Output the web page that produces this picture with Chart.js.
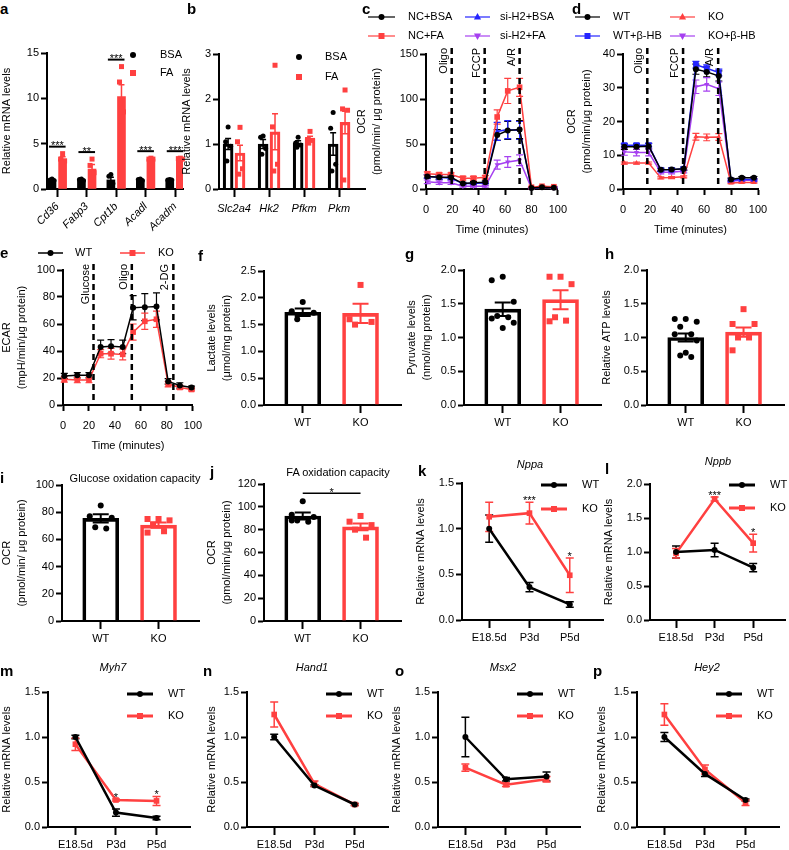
<!DOCTYPE html>
<html>
<head>
<meta charset="utf-8">
<title>Figure</title>
<script src="https://cdn.jsdelivr.net/npm/chart.js@4.4.1/dist/chart.umd.min.js"></script>
<style>
  html, body { margin: 0; padding: 0; background: #fff; }
  #fig { position: relative; width: 789px; height: 850px; overflow: hidden; font-family: 'Liberation Sans', Arial, sans-serif; color: #000; }
  #fig canvas { position: absolute; }
  .letter { position: absolute; font-weight: bold; font-size: 15px; line-height: 1; transform: translateY(-50%); }
  .title { position: absolute; font-size: 11px; line-height: 1; white-space: nowrap; transform: translate(-50%, -50%); }
</style>
</head>
<body>
<div id="fig"></div>
<script>
// ---------------- data ----------------
// a
const genesA = ['Cd36', 'Fabp3', 'Cpt1b', 'Acadl', 'Acadm'];
const bsaA = [1.0, 1.0, 1.0, 1.0, 1.0];
const bsaAErr = [0.05, 0.05, 0.3, 0.05, 0.05];
const bsaADots = [[1.1, 1.0, 0.95, 0.9], [1.1, 1.05, 0.95, 0.9], [1.6, 1.4, 0.6, 0.4], [1.1, 1.05, 0.95, 0.9], [1.05, 1.0, 1.0, 0.95]];
const faA = [3.3, 2.2, 10.2, 3.3, 3.3];
const faAErr = [0.25, 0.5, 1.3, 0.05, 0.07];
const faADots = [[3.9, 3.3, 3.1, 2.9], [3.3, 2.6, 1.8, 1.1], [13.5, 11.8, 8.5, 7.0], [3.4, 3.3, 3.3, 3.2], [3.4, 3.35, 3.3, 3.15]];
const sigA = ['***', '**', '***', '***', '***'];

// b
const genesB = ['Slc2a4', 'Hk2', 'Pfkm', 'Pkm'];
const bsaB = [1.0, 1.0, 1.02, 1.0];
const bsaBErr = [0.12, 0.1, 0.05, 0.25];
const bsaBDots = [[1.38, 1.05, 0.95, 0.62], [1.18, 1.15, 0.9, 0.77], [1.15, 1.02, 0.98, 0.93], [1.7, 1.35, 0.55, 0.4]];
const faB = [0.8, 1.27, 1.12, 1.48];
const faBErr = [0.17, 0.4, 0.05, 0.25];
const faBDots = [[1.37, 1.05, 0.45, 0.33], [2.75, 1.38, 0.55, 0.4], [1.28, 1.1, 1.08, 1.02], [2.2, 1.78, 1.75, 0.2]];

// c
const timeC = [1, 10, 19, 28, 36, 45, 54, 62, 71, 80, 88, 97];
const ncBsa = [14, 13, 13, 6, 7, 7.5, 60, 65, 66, 1, 2, 1.5];
const ncBsaErr = [2, 2, 2, 1.5, 1.5, 1.5, 6, 10, 10, 0.5, 0.5, 0.5];
const ncFa = [17, 16, 16, 12, 12, 13, 80, 109, 113, 2, 3, 2.5];
const ncFaErr = [2, 2, 2, 2, 2, 2, 8, 14, 10, 0.5, 0.5, 0.5];
const siBsa = [14, 13, 12, 6, 6, 7, 64, 66, 65, 1, 2, 2];
const siBsaErr = [2, 2, 2, 1, 1, 1, 10, 10, 10, 0.5, 0.5, 0.5];
const siFa = [8, 7, 7, 3, 3, 3, 27, 30, 32, 1, 2, 1];
const siFaErr = [2, 2, 2, 1, 1, 1, 5, 6, 6, 0.5, 0.5, 0.5];
const injectC = [19.5, 44.5, 71];
const injectLabelsC = ['Oligo', 'FCCP', 'A/R'];

// d
const timeD = [1, 10, 19, 28, 36, 45, 54, 62, 71, 80, 88, 97];
const wtD = [12.5, 12.5, 12.7, 5.7, 5.8, 6, 35.5, 34.7, 33.5, 2.8, 3.3, 3.3];
const wtDErr = [0.8, 0.8, 0.8, 0.5, 0.5, 0.5, 1.5, 1.5, 1.5, 0.4, 0.4, 0.4];
const koD = [7.7, 7.7, 7.7, 3.3, 3.4, 3.6, 15.5, 15.3, 15.4, 1.8, 1.9, 1.9];
const koDErr = [0.3, 0.3, 0.3, 0.3, 0.3, 0.3, 1, 1, 1, 0.2, 0.2, 0.2];
const wtHbD = [13, 13, 13, 5.7, 5.7, 6, 36.8, 35.8, 34.5, 2.6, 2.8, 2.8];
const wtHbDErr = [0.5, 0.5, 0.5, 0.4, 0.4, 0.4, 1, 1, 1, 0.3, 0.3, 0.3];
const koHbD = [11, 10.8, 10.8, 5, 5, 5.3, 30.3, 31, 29.7, 2.3, 2.6, 2.6];
const koHbDErr = [1, 1, 1, 0.5, 0.5, 0.5, 2, 2, 2, 0.3, 0.3, 0.3];
const injectD = [18, 44.5, 70.5];
const injectLabelsD = ['Oligo', 'FCCP', 'A/R'];

// e
const timeE = [1, 11, 20, 29, 37, 46, 54, 63, 72, 81, 90, 99];
const wtE = [21.5, 22, 22, 43, 43.5, 43, 72, 72.5, 73, 17.5, 14.5, 13];
const wtEErr = [2, 2, 2, 5, 5, 5, 9, 10, 10, 2, 2, 1];
const koE = [19, 18.5, 18.5, 38, 38, 37.5, 54, 62, 63.5, 15.5, 13, 11.5];
const koEErr = [2, 2, 2, 3, 4, 4, 6, 6, 6, 2, 1.5, 1];
const injectE = [23.5, 53, 85];
const injectLabelsE = ['Glucose', 'Oligo', '2-DG'];

// f - j (WT / KO)
const groups = ['WT', 'KO'];
const lactate = [1.73, 1.71], lactateErr = [0.07, 0.18];
const lactateDots = [[1.92, 1.75, 1.72, 1.6], [2.24, 1.6, 1.55, 1.5]];
const pyruvate = [1.42, 1.56], pyruvateErr = [0.1, 0.14];
const pyruvateDots = [[1.9, 1.85, 1.53, 1.32, 1.3, 1.28, 1.22, 1.14], [1.9, 1.9, 1.79, 1.3, 1.25, 1.24]];
const atp = [1.0, 1.08], atpErr = [0.06, 0.07];
const atpDots = [[1.275, 1.275, 1.235, 1.16, 1.05, 1.05, 0.955, 0.775, 0.735, 0.71], [1.42, 1.2, 1.2, 1.0, 1.0, 0.81]];
const glucoseOx = [75.5, 70.5], glucoseOxErr = [3, 2];
const glucoseOxDots = [[85, 77, 76, 69, 68], [75, 75, 74, 71, 66, 65]];
const faOx = [92, 82.5], faOxErr = [3, 3];
const faOxDots = [[105, 93, 91, 88, 87, 88], [92, 87, 84, 80, 73]];
const sigJ = '*';

// k - p
const stages = ['E18.5d', 'P3d', 'P5d'];
const nppaWT = [1.0, 0.36, 0.17], nppaWTErr = [0.15, 0.05, 0.03];
const nppaKO = [1.13, 1.17, 0.49], nppaKOErr = [0.16, 0.12, 0.19];
const nppaSig = ['', '***', '*'];
const nppbWT = [1.0, 1.03, 0.77], nppbWTErr = [0.09, 0.1, 0.06];
const nppbKO = [0.98, 1.78, 1.13], nppbKOErr = [0.07, 0.03, 0.13];
const nppbSig = ['', '***', '*'];
const myh7WT = [1.0, 0.16, 0.1], myh7WTErr = [0.02, 0.04, 0.02];
const myh7KO = [0.92, 0.3, 0.29], myh7KOErr = [0.07, 0.01, 0.05];
const myh7Sig = ['', '*', '*'];
const hand1WT = [1.0, 0.46, 0.25], hand1WTErr = [0.03, 0.01, 0.01];
const hand1KO = [1.25, 0.48, 0.25], hand1KOErr = [0.14, 0.03, 0.01];
const msx2WT = [1.0, 0.53, 0.56], msx2WTErr = [0.22, 0.02, 0.05];
const msx2KO = [0.66, 0.47, 0.53], msx2KOErr = [0.04, 0.02, 0.03];
const hey2WT = [1.0, 0.59, 0.3], hey2WTErr = [0.05, 0.03, 0.01];
const hey2KO = [1.25, 0.64, 0.27], hey2KOErr = [0.12, 0.05, 0.03];

// ---------------- styling ----------------
const BLACK = '#000000', RED = '#ff4040', BLUE = '#2424ff', PURPLE = '#a640f0';
const FONT = "'Liberation Sans', Arial, Helvetica, sans-serif";
const JIT = [0, -1, 1, -0.5, 0.5, -1, 1, 0, -0.5, 0.5];

Chart.defaults.font.family = FONT;
Chart.defaults.font.size = 11;
Chart.defaults.color = BLACK;

const fig = document.getElementById('fig');

function addCanvas(box) {
  const cv = document.createElement('canvas');
  const w = box[2] - box[0], h = box[3] - box[1];
  cv.width = w; cv.height = h;
  cv.style.left = box[0] + 'px'; cv.style.top = box[1] + 'px';
  cv.style.width = w + 'px'; cv.style.height = h + 'px';
  fig.appendChild(cv);
  return cv;
}

function addText(cls, s, x, y, italic) {
  const d = document.createElement('div');
  d.className = cls;
  d.textContent = s;
  d.style.left = x + 'px';
  d.style.top = y + 'px';
  if (italic) d.style.fontStyle = 'italic';
  fig.appendChild(d);
}

function marker(ctx, style, x, y, r, color) {
  ctx.fillStyle = color;
  ctx.beginPath();
  if (style === 'circle') {
    ctx.arc(x, y, r, 0, Math.PI * 2);
  } else if (style === 'rect') {
    ctx.rect(x - r, y - r, 2 * r, 2 * r);
  } else if (style === 'triangle') {
    ctx.moveTo(x, y - r * 1.3); ctx.lineTo(x + r * 1.2, y + r * 0.8); ctx.lineTo(x - r * 1.2, y + r * 0.8); ctx.closePath();
  } else {
    ctx.moveTo(x, y + r * 1.3); ctx.lineTo(x + r * 1.2, y - r * 0.8); ctx.lineTo(x - r * 1.2, y - r * 0.8); ctx.closePath();
  }
  ctx.fill();
}

function errBar(ctx, x, yTop, yBot, cap, color, lw) {
  ctx.strokeStyle = color;
  ctx.lineWidth = lw;
  ctx.beginPath();
  ctx.moveTo(x, yTop); ctx.lineTo(x, yBot);
  ctx.moveTo(x - cap, yTop); ctx.lineTo(x + cap, yTop);
  ctx.moveTo(x - cap, yBot); ctx.lineTo(x + cap, yBot);
  ctx.stroke();
}

function stars(ctx, s, x, y) {
  ctx.fillStyle = BLACK;
  ctx.font = '11px ' + FONT;
  ctx.textAlign = 'center';
  ctx.textBaseline = 'alphabetic';
  ctx.fillText(s, x, y);
}

// pos = [lineStart, lineEnd, textX, y] in page pixels
function legendRow(ctx, box, pos, s, lw, r) {
  const x0 = pos[0] - box[0], x1 = pos[1] - box[0], tx = pos[2] - box[0], y = pos[3] - box[1];
  if (x1 > x0) {
    ctx.strokeStyle = s.color; ctx.lineWidth = lw;
    ctx.beginPath(); ctx.moveTo(x0, y); ctx.lineTo(x1, y); ctx.stroke();
  }
  marker(ctx, s.style, (x0 + x1) / 2, y, r, s.color);
  ctx.fillStyle = BLACK;
  ctx.font = '11px ' + FONT;
  ctx.textAlign = 'left';
  ctx.textBaseline = 'middle';
  ctx.fillText(s.name, tx, y);
}

function pointStyleOf(style) {
  return style === 'triangleDown' ? 'triangle' : style;
}

// ---------------- axes ----------------
function yAxis(box, area, max, step, title, digits) {
  return {
    type: 'linear', position: 'left', min: 0, max: max,
    border: { display: true, color: BLACK, width: 2 },
    grid: { display: true, drawOnChartArea: false, drawTicks: true, tickLength: 6, tickWidth: 2, tickColor: BLACK },
    ticks: { stepSize: step, padding: 2, color: BLACK, font: { size: 11 }, callback: v => Number(v).toFixed(digits) },
    title: { display: true, text: title, padding: 0, color: BLACK, font: { size: 11, lineHeight: 1.35 } },
    afterFit: s => { s.width = area[0] - box[0]; }
  };
}

function xCats(box, area, labels, min, max, o) {
  return {
    type: 'linear', position: 'bottom', min: min, max: max, offset: false,
    border: { display: true, color: BLACK, width: 2 },
    grid: { display: true, drawOnChartArea: false, drawTicks: true, tickLength: 8, tickWidth: 2, tickColor: BLACK, offset: false },
    afterBuildTicks: s => { s.ticks = labels.map((l, i) => ({ value: i })); },
    ticks: {
      autoSkip: false, padding: o.pad || 3, color: BLACK, minRotation: o.rot || 0, maxRotation: o.rot || 0,
      font: { size: 11, style: o.italic ? 'italic' : 'normal' }, callback: (v, i) => labels[i]
    },
    afterFit: s => { s.height = box[3] - area[3]; }
  };
}

function xTime(box, area) {
  return {
    type: 'linear', position: 'bottom', min: 0, max: 100,
    border: { display: true, color: BLACK, width: 2 },
    grid: { display: true, drawOnChartArea: false, drawTicks: true, tickLength: 6, tickWidth: 2, tickColor: BLACK },
    ticks: { stepSize: 20, padding: 8, color: BLACK, font: { size: 11 } },
    title: { display: true, text: 'Time (minutes)', padding: 0, color: BLACK, font: { size: 11, lineHeight: 1.35 } },
    afterFit: s => { s.height = box[3] - area[3]; }
  };
}

function build(box, area, type, datasets, xs, ys, draw) {
  return new Chart(addCanvas(box), {
    type: type,
    data: { datasets: datasets },
    options: {
      responsive: false, animation: false, devicePixelRatio: 1,
      layout: { padding: { left: 0, right: box[2] - area[2], top: area[1] - box[1], bottom: 0 } },
      plugins: { legend: { display: false }, tooltip: { enabled: false } },
      scales: { x: xs, y: ys }
    },
    plugins: [{
      id: 'extras',
      beforeDatasetsDraw: c => { if (draw.before) { c.ctx.save(); draw.before(c, c.ctx); c.ctx.restore(); } },
      afterDatasetsDraw: c => { if (draw.after) { c.ctx.save(); draw.after(c, c.ctx); c.ctx.restore(); } }
    }]
  });
}

// ---------------- panel types ----------------
function groupedBarPanel(p) {
  const shift = k => (k ? p.offset : -p.offset);
  const datasets = p.series.map((s, k) => ({
    type: 'bar', grouped: false, barThickness: p.barW,
    data: s.vals.map((v, i) => ({ x: i + shift(k), y: v })),
    backgroundColor: p.filled ? s.color : 'rgba(0,0,0,0)',
    borderColor: s.color, borderWidth: p.filled ? 0 : p.bw
  }));
  build(p.box, p.area, 'bar', datasets,
    xCats(p.box, p.area, p.labels, p.xmin, p.xmax, { rot: p.rot, italic: true, pad: p.pad }),
    yAxis(p.box, p.area, p.ymax, p.step, p.title, 0),
    {
      after: (c, ctx) => {
        const X = c.scales.x, Y = c.scales.y;
        p.series.forEach((s, k) => {
          s.vals.forEach((v, i) => {
            const xp = X.getPixelForValue(i + shift(k));
            errBar(ctx, xp, Y.getPixelForValue(v + s.err[i]), Y.getPixelForValue(v - s.err[i]), 3, s.color, 1.5);
            s.dots[i].forEach((d, j) => marker(ctx, s.style, xp + JIT[j] * p.spread, Y.getPixelForValue(d), p.r, s.color));
          });
        });
        if (p.sig) {
          p.sig.forEach((txt, i) => {
            let top = Infinity;
            p.series.forEach(s => {
              const hi = Math.max(...s.dots[i], s.vals[i] + s.err[i]);
              top = Math.min(top, Y.getPixelForValue(hi));
            });
            const y = top - 7;
            const xl = X.getPixelForValue(i - p.offset) - 3, xr = X.getPixelForValue(i + p.offset) + 3;
            ctx.strokeStyle = BLACK; ctx.lineWidth = 2;
            ctx.beginPath(); ctx.moveTo(xl, y); ctx.lineTo(xr, y); ctx.stroke();
            stars(ctx, txt, (xl + xr) / 2, y + 2.5);
          });
        }
        p.series.forEach((s, k) => legendRow(ctx, p.box, p.legend[k], s, 0, 3));
      }
    });
}

function twoBarPanel(p) {
  const series = [
    { name: 'WT', color: BLACK, style: 'circle' },
    { name: 'KO', color: RED, style: 'rect' }
  ];
  const datasets = series.map((s, k) => ({
    type: 'bar', grouped: false, barThickness: 36,
    data: [{ x: k, y: p.vals[k] }],
    backgroundColor: 'rgba(0,0,0,0)', borderColor: s.color, borderWidth: 3
  }));
  build(p.box, p.area, 'bar', datasets,
    xCats(p.box, p.area, groups, -0.67, 1.7, {}),
    yAxis(p.box, p.area, p.ymax, p.step, p.title, p.digits),
    {
      after: (c, ctx) => {
        const X = c.scales.x, Y = c.scales.y;
        series.forEach((s, k) => {
          const xp = X.getPixelForValue(k), v = p.vals[k], e = p.err[k];
          errBar(ctx, xp, Y.getPixelForValue(v + e), Y.getPixelForValue(v - e), 8, s.color, 2);
          p.dots[k].forEach((d, j) => marker(ctx, s.style, xp + JIT[j] * 11, Y.getPixelForValue(d), 3, s.color));
        });
        if (p.sig) {
          const hi = Math.max(...p.dots[0], ...p.dots[1]);
          const y = Y.getPixelForValue(hi) - 8;
          const xl = X.getPixelForValue(0), xr = X.getPixelForValue(1);
          ctx.strokeStyle = BLACK; ctx.lineWidth = 1.5;
          ctx.beginPath(); ctx.moveTo(xl, y); ctx.lineTo(xr, y); ctx.stroke();
          stars(ctx, p.sig, (xl + xr) / 2, y + 2.5);
        }
      }
    });
}

function timePanel(p) {
  const datasets = p.series.map(s => ({
    type: 'line', clip: false,
    data: p.times.map((t, i) => ({ x: t, y: s.vals[i] })),
    borderColor: s.color, backgroundColor: s.color, borderWidth: 1.5, tension: 0,
    pointStyle: pointStyleOf(s.style), pointRotation: s.style === 'triangleDown' ? 180 : 0,
    pointRadius: s.style === 'rect' ? 4 : 3, pointBorderWidth: 0, pointBackgroundColor: s.color
  }));
  build(p.box, p.area, 'line', datasets,
    xTime(p.box, p.area),
    yAxis(p.box, p.area, p.ymax, p.step, p.title, 0),
    {
      before: (c, ctx) => {
        const X = c.scales.x, Y = c.scales.y;
        p.series.forEach(s => {
          s.vals.forEach((v, i) => {
            errBar(ctx, X.getPixelForValue(p.times[i]), Y.getPixelForValue(v + s.err[i]), Y.getPixelForValue(v - s.err[i]), 3.5, s.color, 1.2);
          });
        });
      },
      after: (c, ctx) => {
        const X = c.scales.x, A = c.chartArea;
        const top = A.top - 6;
        p.inject.forEach((t, i) => {
          const xp = X.getPixelForValue(t);
          ctx.strokeStyle = BLACK; ctx.lineWidth = 2.5; ctx.setLineDash([6, 4]);
          ctx.beginPath(); ctx.moveTo(xp, top); ctx.lineTo(xp, A.bottom); ctx.stroke();
          ctx.setLineDash([]);
          ctx.save();
          ctx.translate(xp - 8, top);
          ctx.rotate(-Math.PI / 2);
          ctx.fillStyle = BLACK; ctx.font = '11px ' + FONT;
          ctx.textAlign = 'right'; ctx.textBaseline = 'middle';
          ctx.fillText(p.injectLabels[i], 0, 0);
          ctx.restore();
        });
        p.series.forEach((s, k) => legendRow(ctx, p.box, p.legend[k], s, p.legendLw || 1.2, 3));
      }
    });
}

function devPanel(p) {
  const series = [
    { name: 'WT', vals: p.wt, err: p.wtErr, color: BLACK, style: 'circle' },
    { name: 'KO', vals: p.ko, err: p.koErr, color: RED, style: 'rect' }
  ];
  const datasets = series.map(s => ({
    type: 'line', clip: false,
    data: s.vals.map((v, i) => ({ x: i, y: v })),
    borderColor: s.color, backgroundColor: s.color, borderWidth: 2.5, tension: 0,
    pointStyle: s.style, pointRadius: s.style === 'rect' ? 4 : 3, pointBorderWidth: 0, pointBackgroundColor: s.color
  }));
  const x0 = p.area[0];
  build(p.box, p.area, 'line', datasets,
    xCats(p.box, p.area, stages, -0.675, 2.825, {}),
    yAxis(p.box, p.area, p.ymax, 0.5, 'Relative mRNA levels', 1),
    {
      before: (c, ctx) => {
        const X = c.scales.x, Y = c.scales.y;
        series.forEach(s => s.vals.forEach((v, i) => {
          errBar(ctx, X.getPixelForValue(i), Y.getPixelForValue(v + s.err[i]), Y.getPixelForValue(v - s.err[i]), 4, s.color, 1.5);
        }));
      },
      after: (c, ctx) => {
        const X = c.scales.x, Y = c.scales.y;
        if (p.sig) p.sig.forEach((txt, i) => {
          if (txt) stars(ctx, txt, X.getPixelForValue(i), Y.getPixelForValue(p.ko[i] + p.koErr[i]) + 2);
        });
        series.forEach((s, k) => legendRow(ctx, p.box, [x0 + 79, x0 + 105, x0 + 120, p.legendY[k]], s, 3, 3));
      }
    });
}

// ---------------- panels ----------------
groupedBarPanel({
  box: [0, 40, 197, 242], area: [47, 53, 183, 189],
  labels: genesA, xmin: -0.35, xmax: 4.27, offset: 0.18, barW: 8, filled: true, rot: 45, pad: 3,
  ymax: 15, step: 5, title: 'Relative mRNA levels', spread: 2, r: 2.5, sig: sigA,
  series: [
    { name: 'BSA', vals: bsaA, err: bsaAErr, dots: bsaADots, color: BLACK, style: 'circle' },
    { name: 'FA', vals: faA, err: faAErr, dots: faADots, color: RED, style: 'rect' }
  ],
  legend: [[133, 133, 160, 55], [133, 133, 160, 73]]
});

groupedBarPanel({
  box: [180, 40, 380, 242], area: [219, 54, 365, 189],
  labels: genesB, xmin: -0.43, xmax: 3.74, offset: 0.17, barW: 10, filled: false, bw: 2.5, rot: 0, pad: 5,
  ymax: 3, step: 1, title: 'Relative mRNA levels', spread: 2.5, r: 2.5,
  series: [
    { name: 'BSA', vals: bsaB, err: bsaBErr, dots: bsaBDots, color: BLACK, style: 'circle' },
    { name: 'FA', vals: faB, err: faBErr, dots: faBDots, color: RED, style: 'rect' }
  ],
  legend: [[299, 299, 325, 57], [299, 299, 325, 77]]
});

timePanel({
  box: [355, 0, 575, 237], area: [426, 54, 558, 189],
  times: timeC, ymax: 150, step: 50, title: ['OCR', '(pmol/min/ μg protein)'],
  inject: injectC, injectLabels: injectLabelsC,
  series: [
    { name: 'NC+BSA', vals: ncBsa, err: ncBsaErr, color: BLACK, style: 'circle' },
    { name: 'NC+FA', vals: ncFa, err: ncFaErr, color: RED, style: 'rect' },
    { name: 'si-H2+BSA', vals: siBsa, err: siBsaErr, color: BLUE, style: 'triangle' },
    { name: 'si-H2+FA', vals: siFa, err: siFaErr, color: PURPLE, style: 'triangleDown' }
  ],
  legend: [[368, 395, 408, 17], [368, 395, 408, 36], [465, 490, 500, 17], [465, 490, 500, 36]]
});

timePanel({
  box: [565, 0, 789, 237], area: [623, 54, 758, 189],
  times: timeD, ymax: 40, step: 10, title: ['OCR', '(pmol/min/μg protein)'],
  inject: injectD, injectLabels: injectLabelsD,
  series: [
    { name: 'WT', vals: wtD, err: wtDErr, color: BLACK, style: 'circle' },
    { name: 'KO', vals: koD, err: koDErr, color: RED, style: 'triangle' },
    { name: 'WT+β-HB', vals: wtHbD, err: wtHbDErr, color: BLUE, style: 'rect' },
    { name: 'KO+β-HB', vals: koHbD, err: koHbDErr, color: PURPLE, style: 'triangleDown' }
  ],
  legend: [[575, 600, 613, 17], [670, 695, 708, 17], [575, 600, 613, 36], [670, 695, 708, 36]]
});

timePanel({
  box: [0, 240, 210, 453], area: [63, 270, 197, 405],
  times: timeE, ymax: 100, step: 20, title: ['ECAR', '(mpH/min/μg protein)'],
  inject: injectE, injectLabels: injectLabelsE, legendLw: 1.5,
  series: [
    { name: 'WT', vals: wtE, err: wtEErr, color: BLACK, style: 'circle' },
    { name: 'KO', vals: koE, err: koEErr, color: RED, style: 'rect' }
  ],
  legend: [[38, 63, 75, 253], [120, 145, 158, 253]]
});

twoBarPanel({ box: [205, 255, 405, 440], area: [264, 271, 401, 405], vals: lactate, err: lactateErr, dots: lactateDots,
  ymax: 2.5, step: 0.5, digits: 1, title: ['Lactate levels', '(μmol/mg protein)'] });
twoBarPanel({ box: [405, 255, 605, 440], area: [464, 270, 601, 405], vals: pyruvate, err: pyruvateErr, dots: pyruvateDots,
  ymax: 2.0, step: 0.5, digits: 1, title: ['Pyruvate levels', '(nmol/mg protein)'] });
twoBarPanel({ box: [600, 255, 789, 440], area: [647, 270, 784, 405], vals: atp, err: atpErr, dots: atpDots,
  ymax: 2.0, step: 0.5, digits: 1, title: 'Relative ATP levels' });
twoBarPanel({ box: [0, 470, 205, 655], area: [62, 485, 199, 621], vals: glucoseOx, err: glucoseOxErr, dots: glucoseOxDots,
  ymax: 100, step: 20, digits: 0, title: ['OCR', '(pmol/min/ μg protein)'] });
twoBarPanel({ box: [205, 470, 410, 655], area: [264, 484, 401, 621], vals: faOx, err: faOxErr, dots: faOxDots,
  ymax: 120, step: 20, digits: 0, title: ['OCR', '(pmol/min/μg protein)'], sig: sigJ });

devPanel({ box: [414, 470, 620, 655], area: [462, 483, 603, 620], ymax: 1.5, wt: nppaWT, wtErr: nppaWTErr, ko: nppaKO, koErr: nppaKOErr, sig: nppaSig, legendY: [485, 509] });
devPanel({ box: [602, 470, 789, 655], area: [650, 484, 788, 620], ymax: 2.0, wt: nppbWT, wtErr: nppbWTErr, ko: nppbKO, koErr: nppbKOErr, sig: nppbSig, legendY: [485, 508] });
devPanel({ box: [0, 680, 200, 850], area: [48, 692, 190, 827], ymax: 1.5, wt: myh7WT, wtErr: myh7WTErr, ko: myh7KO, koErr: myh7KOErr, sig: myh7Sig, legendY: [694, 716] });
devPanel({ box: [205, 680, 400, 850], area: [247, 692, 388, 827], ymax: 1.5, wt: hand1WT, wtErr: hand1WTErr, ko: hand1KO, koErr: hand1KOErr, legendY: [694, 716] });
devPanel({ box: [390, 680, 595, 850], area: [438, 692, 580, 827], ymax: 1.5, wt: msx2WT, wtErr: msx2WTErr, ko: msx2KO, koErr: msx2KOErr, legendY: [694, 716] });
devPanel({ box: [595, 680, 789, 850], area: [637, 692, 779, 827], ymax: 1.5, wt: hey2WT, wtErr: hey2WTErr, ko: hey2KO, koErr: hey2KOErr, legendY: [694, 716] });

// ---------------- panel letters and titles ----------------
[['a', 0, 8], ['b', 187, 8], ['c', 362, 8], ['d', 572, 8],
 ['e', 0, 252], ['f', 198, 255], ['g', 405, 253], ['h', 605, 253],
 ['i', 0, 477], ['j', 210, 471], ['k', 418, 470], ['l', 605, 468],
 ['m', 0, 670], ['n', 203, 670], ['o', 395, 670], ['p', 593, 670]
].forEach(t => addText('letter', t[0], t[1], t[2]));

addText('title', 'Glucose oxidation capacity', 135, 478);
addText('title', 'FA oxidation capacity', 338, 472);
addText('title', 'Nppa', 530, 464, true);
addText('title', 'Nppb', 718, 461, true);
addText('title', 'Myh7', 113, 667, true);
addText('title', 'Hand1', 312, 667, true);
addText('title', 'Msx2', 503, 667, true);
addText('title', 'Hey2', 707, 667, true);
</script>
</body>
</html>
